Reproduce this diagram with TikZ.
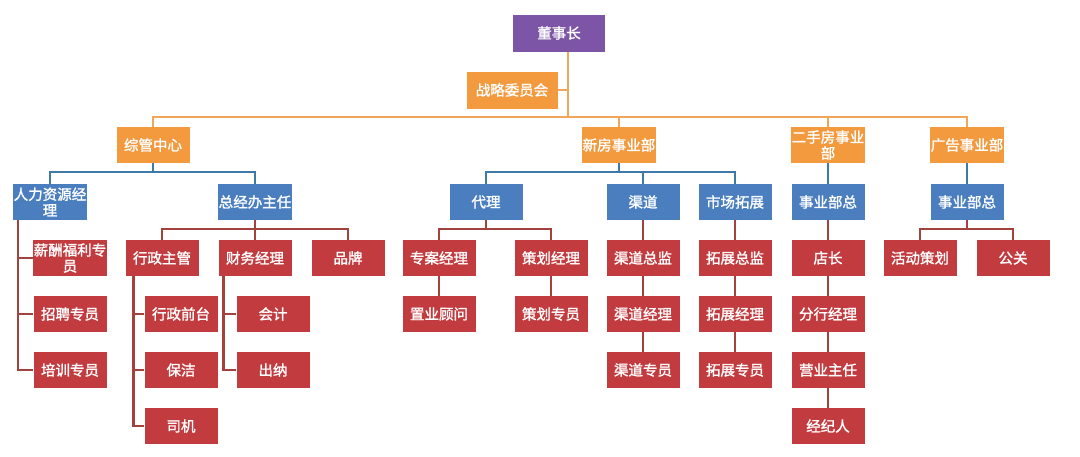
\documentclass[tikz,border=0pt]{standalone}
\usepackage{fontspec}
\newfontfamily\cjk[AutoFakeBold=1.5]{Noto Sans CJK SC}
\definecolor{cpur}{HTML}{7D55A6}
\definecolor{cora}{HTML}{F39A3E}
\definecolor{cblu}{HTML}{4A7EBF}
\definecolor{cred}{HTML}{C23B3F}
\definecolor{lora}{HTML}{EFA75A}
\definecolor{lblu}{HTML}{3F7AA6}
\definecolor{lred}{HTML}{A3423C}
\begin{document}
\begin{tikzpicture}[x=1pt,y=-1pt,
  bx/.style={minimum width=73pt,minimum height=36pt,inner sep=0.5pt,text=white,align=center,font=\cjk\bfseries\fontsize{14.5}{16}\selectfont},
  pu/.style={bx,fill=cpur,minimum width=92pt,minimum height=37pt},
  or/.style={bx,fill=cora},
  bl/.style={bx,fill=cblu},
  rd/.style={bx,fill=cred},
  lo/.style={draw=lora,line width=2.5pt},
  lb/.style={draw=lblu,line width=2.5pt},
  lr/.style={draw=lred,line width=2.5pt}]
\useasboundingbox[fill=white] (0,0) rectangle (1080,456);
% level 0/1
\node[pu] (dsz) at (559,33) {董事长};
\node[or,minimum width=91pt,minimum height=37pt] (zl) at (512,90) {战略委员会};
\coordinate (spine) at (568,117);
\node[or] (zg) at (153,145) {综管中心};
\node[or] (xf) at (619,145) {新房事业部};
\node[or] (es) at (828,145) {二手房事业\\部};
\node[or] (gg) at (967,145) {广告事业部};
% blue
\node[bl] (hr) at (50,202) {人力资源经\\理};
\node[bl] (zj) at (255,202) {总经办主任};
\node[bl] (dl) at (486,202) {代理};
\node[bl] (qd) at (643,202) {渠道};
\node[bl] (sc) at (735,202) {市场拓展};
\node[bl] (es1) at (828,202) {事业部总};
\node[bl] (gg1) at (967,202) {事业部总};
% red under hr
\node[rd] (h1) at (70,258) {薪酬福利专\\员};
\node[rd] (h2) at (70,314) {招聘专员};
\node[rd] (h3) at (70,370) {培训专员};
% under zj
\node[rd] (xz) at (162,258) {行政主管};
\node[rd] (cw) at (255,258) {财务经理};
\node[rd] (pp) at (348,258) {品牌};
\node[rd] (x1) at (181,314) {行政前台};
\node[rd] (x2) at (181,370) {保洁};
\node[rd] (x3) at (181,426) {司机};
\node[rd] (c1) at (273,314) {会计};
\node[rd] (c2) at (273,370) {出纳};
% under dl
\node[rd] (d1) at (439,258) {专案经理};
\node[rd] (d2) at (551,258) {策划经理};
\node[rd] (d3) at (439,314) {置业顾问};
\node[rd] (d4) at (551,314) {策划专员};
% chains
\node[rd] (q1) at (643,258) {渠道总监};
\node[rd] (q2) at (643,314) {渠道经理};
\node[rd] (q3) at (643,370) {渠道专员};
\node[rd] (s1) at (735,258) {拓展总监};
\node[rd] (s2) at (735,314) {拓展经理};
\node[rd] (s3) at (735,370) {拓展专员};
\node[rd] (e1) at (828,258) {店长};
\node[rd] (e2) at (828,314) {分行经理};
\node[rd] (e3) at (828,370) {营业主任};
\node[rd] (e4) at (828,426) {经纪人};
\node[rd] (g1) at (920,258) {活动策划};
\node[rd] (g2) at (1013,258) {公关};
% orange connectors
\draw[lo] (dsz.south -| spine) -- (spine);
\draw[lo] (zl.east) -- (zl.east -| spine);
\foreach \n in {zg,xf,es,gg} \draw[lo] (spine) -| (\n.north);
% blue connectors
\foreach \n in {hr,zj} \draw[lb] (zg.south) -- ([yshift=-9pt]zg.south) -| (\n.north);
\foreach \n in {dl,qd,sc} \draw[lb] (xf.south) -- ([yshift=-9pt]xf.south) -| (\n.north);
\draw[lb] (es.south) -- (es1.north);
\draw[lb] (gg.south) -- (gg1.north);
% red connectors
\foreach \n in {h1,h2,h3} \draw[lr] ([xshift=5pt]hr.south west) |- (\n.west);
\foreach \n in {xz,cw,pp} \draw[lr] (zj.south) -- ([yshift=-9pt]zj.south) -| (\n.north);
\foreach \n in {x1,x2,x3} \draw[lr] ([xshift=8pt]xz.south west) |- (\n.west);
\foreach \n in {c1,c2} \draw[lr] ([xshift=5pt]cw.south west) |- (\n.west);
\foreach \n in {d1,d2} \draw[lr] (dl.south) -- ([yshift=-9pt]dl.south) -| (\n.north);
\draw[lr] (d1) -- (d3);
\draw[lr] (d2) -- (d4);
\draw[lr] (qd) -- (q1); \draw[lr] (q1) -- (q2); \draw[lr] (q2) -- (q3);
\draw[lr] (sc) -- (s1); \draw[lr] (s1) -- (s2); \draw[lr] (s2) -- (s3);
\draw[lr] (es1) -- (e1); \draw[lr] (e1) -- (e2); \draw[lr] (e2) -- (e3); \draw[lr] (e3) -- (e4);
\foreach \n in {g1,g2} \draw[lr] (gg1.south) -- ([yshift=-9pt]gg1.south) -| (\n.north);
\end{tikzpicture}
\end{document}
